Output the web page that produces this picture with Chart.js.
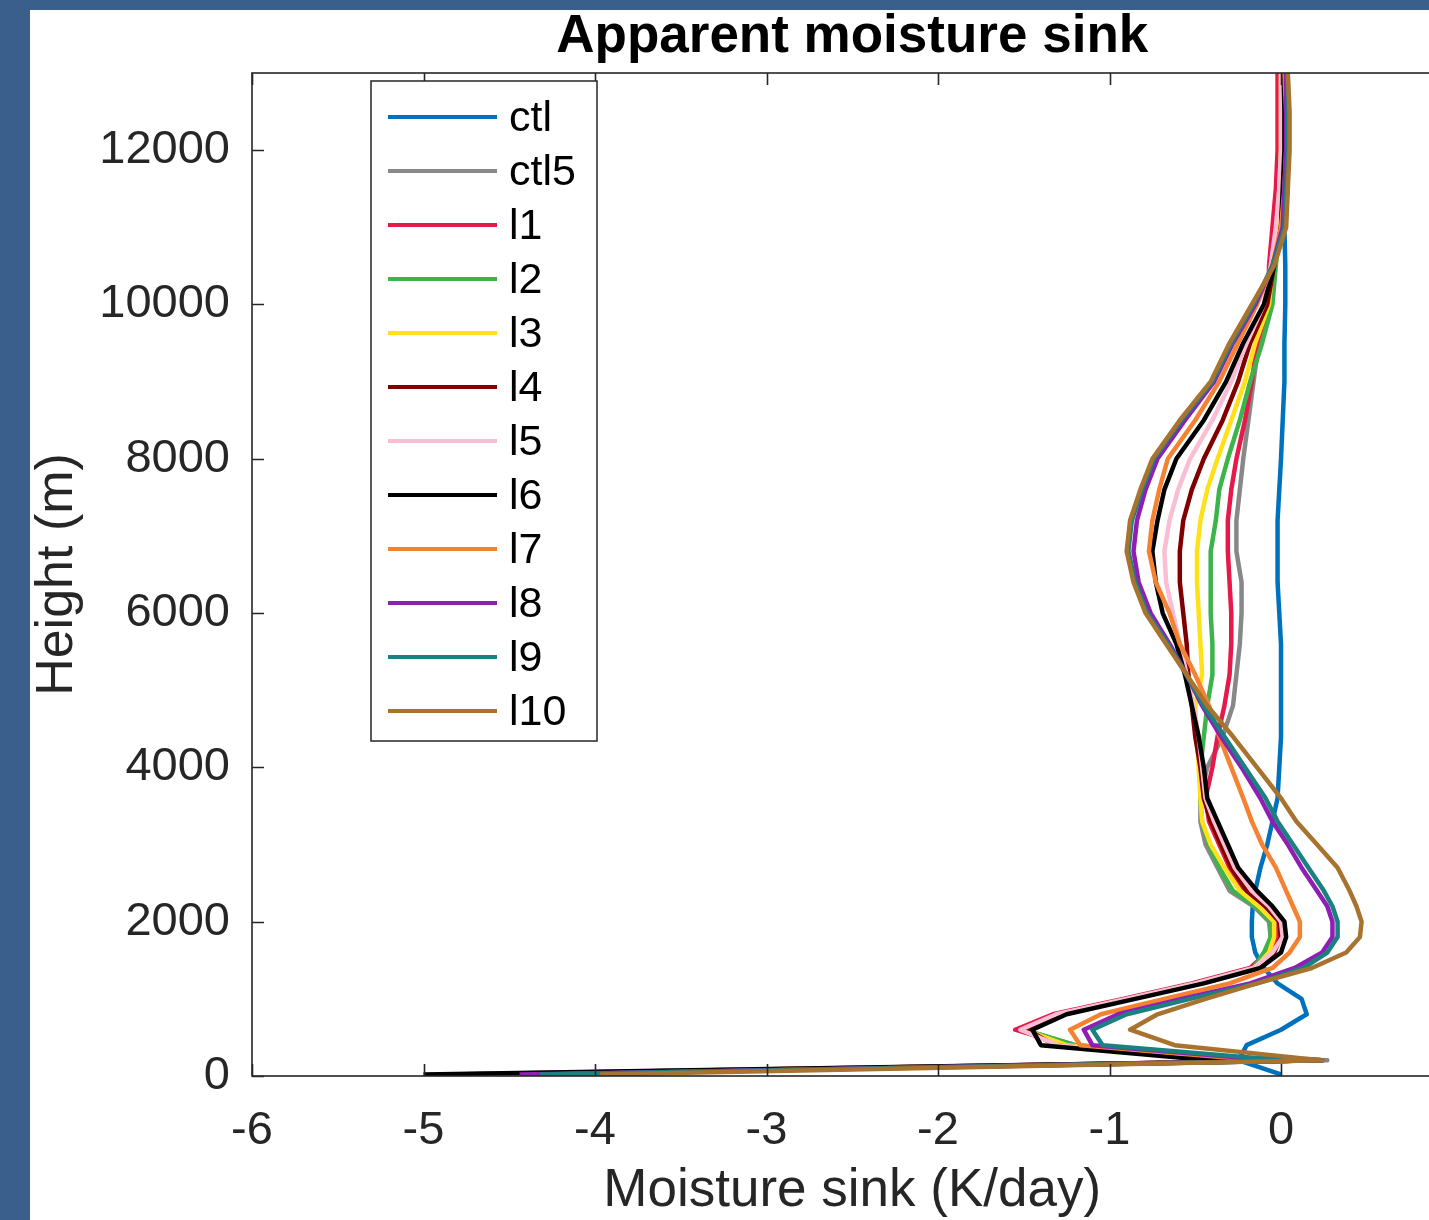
<!DOCTYPE html>
<html>
<head>
<meta charset="utf-8">
<script src="https://cdn.jsdelivr.net/npm/chart.js@4.4.1/dist/chart.umd.min.js"></script>
<style>
  html, body { margin: 0; padding: 0; width: 1429px; height: 1220px; overflow: hidden; background: #3a5f8c; }
  #panel { position: absolute; left: 30px; top: 10px; width: 1470px; height: 1210px; background: #fff; }
</style>
</head>
<body>
<div id="panel"><canvas id="sinkChart"></canvas></div>
<script>
// heights of the model levels (m)
const heights = [20, 205, 235, 400, 600, 800, 1000, 1200, 1400, 1600, 1800, 2000, 2200, 2400, 2700,
  3000, 3300, 3600, 4000, 4400, 4800, 5200, 5600, 6000, 6400, 6800, 7200, 7600, 8000, 8500,
  9000, 9500, 10000, 10500, 11000, 11500, 12000, 12500, 13000];

// moisture sink (K/day) per run, same order as heights
const ctl  = [0.0, -0.25, -0.24, -0.2, 0.0, 0.15, 0.12, -0.02, -0.1, -0.15, -0.17, -0.17, -0.165, -0.15, -0.12,
  -0.08, -0.05, -0.02, -0.01, 0.0, 0.0, 0.0, 0.0, -0.01, -0.02, -0.02, -0.02, -0.01, 0.0, 0.01,
  0.02, 0.02, 0.025, 0.025, 0.02, 0.02, 0.02, 0.02, 0.02];
const ctl5 = [-4.6, 0.27, -0.35, -1.2, -1.5, -1.3, -0.9, -0.5, -0.17, -0.09, -0.06, -0.07, -0.16, -0.30, -0.37,
  -0.44, -0.47, -0.47, -0.43, -0.34, -0.28, -0.26, -0.24, -0.23, -0.23, -0.26, -0.26, -0.24, -0.22, -0.19,
  -0.16, -0.13, -0.06, -0.04, -0.01, 0.0, 0.01, 0.01, 0.01];
const l1   = [-4.8, 0.22, -0.48, -1.25, -1.55, -1.33, -0.92, -0.52, -0.18, -0.08, -0.02, -0.02, -0.11, -0.21, -0.30,
  -0.36, -0.42, -0.44, -0.40, -0.37, -0.33, -0.30, -0.29, -0.29, -0.30, -0.31, -0.31, -0.29, -0.26, -0.21,
  -0.17, -0.14, -0.07, -0.07, -0.05, -0.03, -0.02, -0.02, -0.02];
const l2   = [-4.7, 0.24, -0.40, -1.2, -1.5, -1.3, -0.9, -0.5, -0.16, -0.1, -0.06, -0.06, -0.15, -0.28, -0.36,
  -0.42, -0.46, -0.47, -0.47, -0.45, -0.43, -0.40, -0.40, -0.41, -0.41, -0.41, -0.38, -0.36, -0.31, -0.24,
  -0.18, -0.11, -0.05, -0.03, -0.01, 0.0, 0.01, 0.01, 0.01];
const l3   = [-4.75, 0.24, -0.45, -1.25, -1.5, -1.29, -0.88, -0.48, -0.15, -0.07, -0.04, -0.04, -0.13, -0.24, -0.33,
  -0.41, -0.46, -0.47, -0.48, -0.49, -0.50, -0.46, -0.47, -0.48, -0.49, -0.49, -0.47, -0.43, -0.37, -0.29,
  -0.21, -0.15, -0.07, -0.05, -0.02, -0.01, 0.0, 0.0, 0.0];
const l4   = [-4.85, 0.24, -0.52, -1.32, -1.48, -1.27, -0.87, -0.47, -0.13, -0.04, 0.0, -0.01, -0.09, -0.20, -0.29,
  -0.35, -0.41, -0.45, -0.47, -0.50, -0.52, -0.54, -0.55, -0.57, -0.59, -0.59, -0.57, -0.52, -0.45, -0.34,
  -0.25, -0.18, -0.08, -0.04, 0.0, 0.01, 0.02, 0.02, 0.015];
const l5   = [-4.9, 0.24, -0.55, -1.3, -1.52, -1.31, -0.9, -0.5, -0.16, -0.05, 0.01, 0.0, -0.07, -0.17, -0.27,
  -0.33, -0.39, -0.44, -0.46, -0.48, -0.51, -0.55, -0.59, -0.63, -0.67, -0.68, -0.65, -0.60, -0.53, -0.40,
  -0.29, -0.20, -0.10, -0.06, -0.03, -0.01, 0.0, 0.0, 0.0];
const l6   = [-5.0, 0.24, -0.58, -1.40, -1.45, -1.25, -0.85, -0.45, -0.12, 0.0, 0.03, 0.02, -0.05, -0.14, -0.25,
  -0.31, -0.37, -0.43, -0.45, -0.48, -0.52, -0.56, -0.61, -0.69, -0.73, -0.75, -0.72, -0.68, -0.61, -0.45,
  -0.32, -0.22, -0.10, -0.04, 0.0, 0.01, 0.02, 0.02, 0.015];
const l7   = [-4.3, 0.24, -0.30, -1.17, -1.23, -1.05, -0.68, -0.30, -0.05, 0.05, 0.11, 0.11, 0.07, 0.03, -0.03,
  -0.11, -0.17, -0.22, -0.29, -0.36, -0.42, -0.50, -0.59, -0.65, -0.73, -0.77, -0.75, -0.71, -0.66, -0.50,
  -0.36, -0.25, -0.14, -0.05, 0.0, 0.02, 0.03, 0.03, 0.02];
const l8   = [-4.44, 0.24, -0.22, -1.10, -1.15, -0.95, -0.58, -0.18, 0.08, 0.24, 0.30, 0.30, 0.27, 0.21, 0.12,
  0.04, -0.05, -0.12, -0.23, -0.35, -0.46, -0.55, -0.65, -0.76, -0.83, -0.86, -0.84, -0.79, -0.72, -0.56,
  -0.39, -0.28, -0.15, -0.05, 0.01, 0.02, 0.03, 0.03, 0.03];
const l9   = [-4.32, 0.24, -0.15, -1.04, -1.10, -0.90, -0.53, -0.14, 0.13, 0.27, 0.33, 0.33, 0.30, 0.25, 0.16,
  0.07, -0.02, -0.09, -0.21, -0.33, -0.45, -0.55, -0.66, -0.78, -0.85, -0.89, -0.87, -0.81, -0.74, -0.58,
  -0.40, -0.29, -0.16, -0.05, 0.02, 0.03, 0.04, 0.04, 0.035];
const l10  = [-3.97, 0.24, 0.10, -0.62, -0.88, -0.72, -0.44, -0.14, 0.18, 0.38, 0.46, 0.47, 0.44, 0.40, 0.33,
  0.21, 0.09, 0.0, -0.14, -0.28, -0.43, -0.55, -0.67, -0.79, -0.86, -0.90, -0.88, -0.82, -0.75, -0.59,
  -0.41, -0.30, -0.17, -0.04, 0.03, 0.04, 0.05, 0.05, 0.04];

const runNames  = ['ctl', 'ctl5', 'l1', 'l2', 'l3', 'l4', 'l5', 'l6', 'l7', 'l8', 'l9', 'l10'];
const runValues = [ctl, ctl5, l1, l2, l3, l4, l5, l6, l7, l8, l9, l10];
const runColors = ['#0072bd', '#888888', '#e6194b', '#3cb44b', '#ffe119', '#800000',
                   '#fabed4', '#000000', '#f58231', '#911eb4', '#1a8080', '#a8722f'];

const xTicks = [-6, -5, -4, -3, -2, -1, 0];
const yTicks = [0, 2000, 4000, 6000, 8000, 10000, 12000];

const FONT = '"Liberation Sans", Arial, Helvetica, sans-serif';
const AXIS = '#262626';

Chart.defaults.font.family = FONT;

// MATLAB-like box with inward ticks, title and legend
const matlabFrame = {
  id: 'matlabFrame',
  afterDraw(chart) {
    const { ctx, chartArea: a, scales: { x, y } } = chart;
    ctx.save();
    ctx.strokeStyle = AXIS; ctx.lineWidth = 1.6;
    ctx.strokeRect(a.left, a.top, a.right - a.left, a.bottom - a.top);
    const tl = 12;
    ctx.beginPath();
    x.ticks.forEach(t => {
      const px = Math.round(x.getPixelForValue(t.value)) + 0.5;
      ctx.moveTo(px, a.bottom); ctx.lineTo(px, a.bottom - tl);
      ctx.moveTo(px, a.top);    ctx.lineTo(px, a.top + tl);
    });
    y.ticks.forEach(t => {
      const py = Math.round(y.getPixelForValue(t.value)) + 0.5;
      ctx.moveTo(a.left, py);  ctx.lineTo(a.left + tl, py);
      ctx.moveTo(a.right, py); ctx.lineTo(a.right - tl, py);
    });
    ctx.stroke();

    // title
    ctx.fillStyle = '#000';
    ctx.font = 'bold 53px ' + FONT;
    ctx.textAlign = 'center'; ctx.textBaseline = 'alphabetic';
    ctx.fillText('Apparent moisture sink', (a.left + a.right) / 2, 42);

    // legend
    const x0 = a.left + 119, y0 = a.top + 8, w = 226, h = 660;
    ctx.fillStyle = '#fff'; ctx.fillRect(x0, y0, w, h);
    ctx.strokeStyle = AXIS; ctx.lineWidth = 1.5; ctx.strokeRect(x0, y0, w, h);
    ctx.font = '43px ' + FONT;
    ctx.textAlign = 'left'; ctx.textBaseline = 'middle';
    chart.data.datasets.forEach((ds, i) => {
      const ly = y0 + 36 + i * 54;
      ctx.strokeStyle = ds.borderColor; ctx.lineWidth = 4;
      ctx.beginPath(); ctx.moveTo(x0 + 17, ly); ctx.lineTo(x0 + 126, ly); ctx.stroke();
      ctx.fillStyle = '#000';
      ctx.fillText(ds.label, x0 + 138, ly + 2);
    });
    ctx.restore();
  }
};

new Chart(document.getElementById('sinkChart'), {
  type: 'scatter',
  data: {
    datasets: runNames.map((name, i) => ({
      label: name,
      data: runValues[i].map((v, k) => ({ x: v, y: heights[k] })),
      showLine: true,
      borderColor: runColors[i],
      backgroundColor: runColors[i],
      borderWidth: 4.5,
      pointRadius: 0,
      tension: 0,
      borderJoinStyle: 'round',
      order: runNames.length - 1 - i
    }))
  },
  options: {
    responsive: true, maintainAspectRatio: false, animation: false,
    layout: { padding: { top: 63, right: 47.5, left: 0, bottom: 0 } },
    plugins: { legend: { display: false }, tooltip: { enabled: false }, title: { display: false } },
    scales: {
      x: {
        type: 'linear', min: -6, max: 1,
        afterBuildTicks: s => { s.ticks = xTicks.map(v => ({ value: v })); },
        afterFit: s => { s.height = 144; },
        ticks: { font: { size: 47 }, color: AXIS, padding: 27, maxRotation: 0, callback: v => String(v) },
        grid: { display: false, drawTicks: false },
        border: { display: false },
        title: { display: true, text: 'Moisture sink (K/day)', font: { size: 53 }, color: AXIS, padding: { top: 0, bottom: -3 } }
      },
      y: {
        type: 'linear', min: 0, max: 13000,
        afterBuildTicks: s => { s.ticks = yTicks.map(v => ({ value: v })); },
        afterFit: s => { s.width = 222; },
        ticks: { font: { size: 47 }, color: AXIS, padding: 22, callback: v => String(v) },
        grid: { display: false, drawTicks: false },
        border: { display: false },
        title: { display: true, text: 'Height (m)', font: { size: 52 }, color: AXIS, padding: { top: -4, bottom: 0 } }
      }
    }
  },
  plugins: [matlabFrame]
});
</script>
</body>
</html>
